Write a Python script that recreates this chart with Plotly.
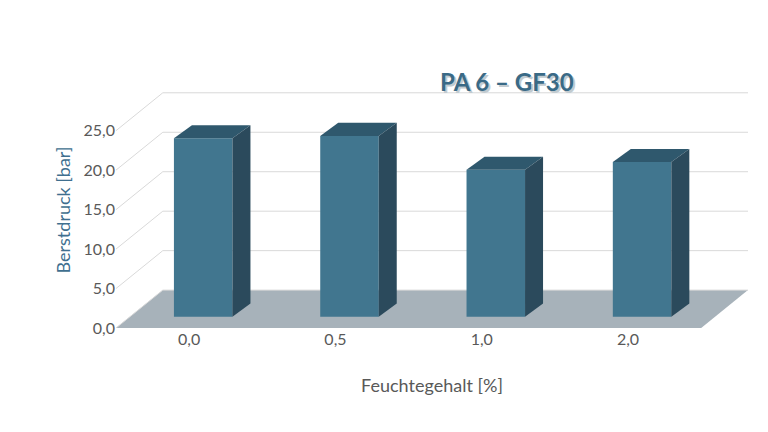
import plotly.graph_objects as go

categories = ["0,0", "0,5", "1,0", "2,0"]
berstdruck = [22.6, 22.9, 18.6, 19.6]
y_ticks = [0, 5, 10, 15, 20, 25]
y_ticktext = ["0,0", "5,0", "10,0", "15,0", "20,0", "25,0"]

# fake 3D geometry (data units)
DEPTH_X, DEPTH_Y = 0.32, 4.8      # full floor depth
BAR_POS = 0.3                     # depth of bar front face
BAR_W = 0.4
SIDE_X, SIDE_Y = 0.123, 1.65      # bar depth

FRONT = "#41768f"
SIDE = "#2b4a5c"
TOP = "#2f586d"

xs = list(range(len(categories)))
base = BAR_POS * DEPTH_Y
bar_x = [i + BAR_POS * DEPTH_X for i in xs]

fig = go.Figure()
fig.add_trace(go.Bar(x=bar_x, y=berstdruck, base=base, width=BAR_W,
                     marker=dict(color=FRONT, line=dict(width=0)),
                     hoverinfo="y", showlegend=False))

shapes = []
x_left, x_right = -0.5, len(categories) - 0.5
# floor
shapes.append(dict(type="path", layer="below", line=dict(width=0), fillcolor="#a7b2ba",
                   path=f"M {x_left},0 L {x_right},0 L {x_right + DEPTH_X},{DEPTH_Y} "
                        f"L {x_left + DEPTH_X},{DEPTH_Y} Z"))
# back wall grid lines
for t in y_ticks:
    shapes.append(dict(type="path", layer="below", line=dict(color="#d9d9d9", width=1),
                       path=f"M {x_left},{t} L {x_left + DEPTH_X},{t + DEPTH_Y} "
                            f"L {x_right + DEPTH_X},{t + DEPTH_Y}"))
# bar tops and sides
for bx, v in zip(bar_x, berstdruck):
    xl, xr = bx - BAR_W / 2, bx + BAR_W / 2
    top = base + v
    shapes.append(dict(type="path", line=dict(width=0), fillcolor=TOP,
                       path=f"M {xl},{top} L {xr},{top} L {xr + SIDE_X},{top + SIDE_Y} "
                            f"L {xl + SIDE_X},{top + SIDE_Y} Z"))
    shapes.append(dict(type="path", line=dict(width=0), fillcolor=SIDE,
                       path=f"M {xr},{base} L {xr + SIDE_X},{base + SIDE_Y} "
                            f"L {xr + SIDE_X},{top + SIDE_Y} L {xr},{top} Z"))

title_x = (568 - 108) / 632
title_y = (432 - 57 - 112) / 236

fig.update_layout(
    width=768, height=432,
    margin=dict(l=108, r=28, t=84, b=112, autoexpand=False),
    paper_bgcolor="white", plot_bgcolor="white",
    font=dict(family="Lato, Open Sans, sans-serif", size=16, color="#595959"),
    shapes=shapes,
    xaxis=dict(range=[x_left, x_right + DEPTH_X], tickvals=xs, ticktext=categories,
               showgrid=False, zeroline=False, showline=False, ticks="", automargin=False,
               title=dict(text="Feuchtegehalt [%]", font=dict(size=18, color="#595959"), standoff=32)),
    yaxis=dict(range=[0, 25 + DEPTH_Y + 0.1], tickvals=y_ticks, ticktext=y_ticktext,
               showgrid=False, zeroline=False, showline=False, ticks="", automargin=False,
               title=dict(text="Berstdruck [bar]", font=dict(size=18, color="#3f6f8f"), standoff=8)),
    annotations=[
        dict(text="<b>PA 6 – GF30</b>", x=title_x + 1.5 / 632, y=title_y - 1.5 / 236,
             xref="paper", yref="paper", showarrow=False, font=dict(size=24, color="#c2cbd0")),
        dict(text="<b>PA 6 – GF30</b>", x=title_x, y=title_y,
             xref="paper", yref="paper", showarrow=False, font=dict(size=24, color="#3a6a86")),
    ],
)

fig.write_html("out.html")
